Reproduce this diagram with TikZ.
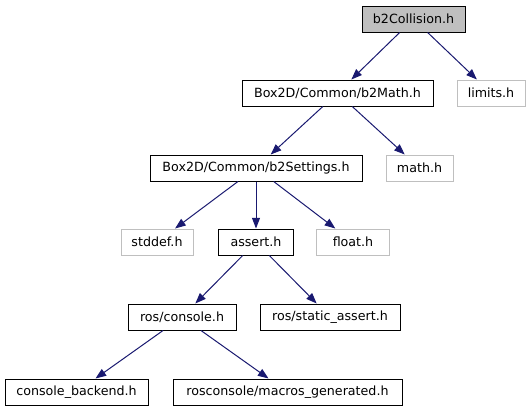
\documentclass[tikz,border=0pt]{standalone}
\usepackage{fontspec}
\setmainfont{DejaVu Sans}
\usetikzlibrary{arrows.meta}
\definecolor{edgeblue}{HTML}{191970}
\definecolor{sysgray}{HTML}{BFBFBF}
\definecolor{rootfill}{HTML}{BFBFBF}
\begin{document}
\begin{tikzpicture}[x=0.75pt,y=-0.75pt,
  filebox/.style={draw=black,line width=0.75pt,minimum height=19.5pt,inner sep=0pt,font=\fontsize{9.5}{11}\selectfont,fill=white},
  sysbox/.style={filebox,draw=sysgray},
  rootbox/.style={filebox,fill=rootfill},
  dep/.style={draw=edgeblue,line width=0.75pt,-{Triangle[length=8pt,width=6pt]},shorten >=0pt}]
\useasboundingbox (0,0) rectangle (530,411);
\node[rootbox,minimum width=77.25pt] (coll) at (413.5,19) {b2Collision.h};
\node[filebox,minimum width=143.25pt] (b2math) at (337.5,93) {Box2D/Common/b2Math.h};
\node[sysbox,minimum width=51pt] (limits) at (491,93) {limits.h};
\node[filebox,minimum width=159pt] (settings) at (256,168) {Box2D/Common/b2Settings.h};
\node[sysbox,minimum width=50.25pt] (mathh) at (419.5,168) {math.h};
\node[sysbox,minimum width=54pt] (stddef) at (157,242) {stddef.h};
\node[filebox,minimum width=56.25pt] (assert) at (256,242) {assert.h};
\node[sysbox,minimum width=54.75pt] (float) at (353,242) {float.h};
\node[filebox,minimum width=81pt] (console) at (182,317) {ros/console.h};
\node[filebox,minimum width=105pt] (static) at (330,317) {ros/static\_assert.h};
\node[filebox,minimum width=107.25pt] (backend) at (76.5,392) {console\_backend.h};
\node[filebox,minimum width=171.75pt] (macros) at (287.5,392) {rosconsole/macros\_generated.h};
\draw[dep] (coll) -- (b2math);
\draw[dep] (coll) -- (limits);
\draw[dep] (b2math) -- (settings);
\draw[dep] (b2math) -- (mathh);
\draw[dep] (settings) -- (stddef);
\draw[dep] (settings) -- (assert);
\draw[dep] (settings) -- (float);
\draw[dep] (assert) -- (console);
\draw[dep] (assert) -- (static);
\draw[dep] (console) -- (backend);
\draw[dep] (console) -- (macros);
\end{tikzpicture}
\end{document}
